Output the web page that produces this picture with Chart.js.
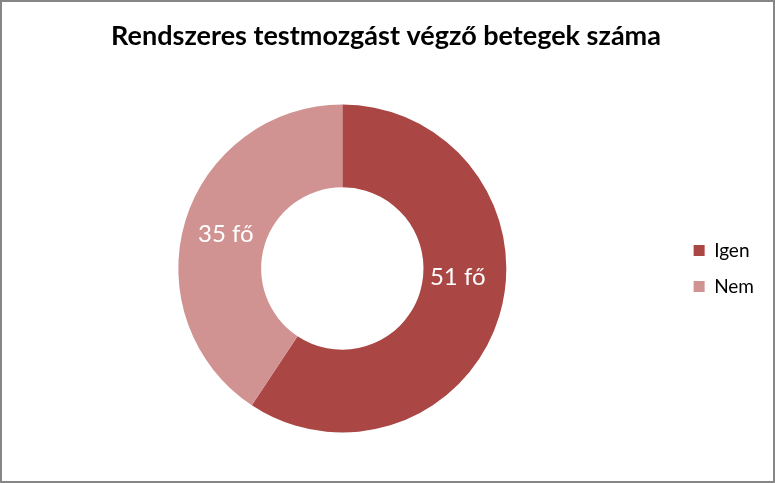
<!DOCTYPE html>
<html>
<head>
<meta charset="utf-8">
<script src="https://cdn.jsdelivr.net/npm/chart.js@4/dist/chart.umd.min.js"></script>
<style>
  html, body { margin: 0; padding: 0; background: #fff; }
  #wrap { width: 775px; height: 483px; box-sizing: border-box; border: 2px solid #868686; position: relative; }
  canvas { display: block; }
</style>
</head>
<body>
<div id="wrap"><canvas id="c" width="771" height="479"></canvas></div>
<script>
const chartTitle = 'Rendszeres testmozgást végző betegek száma';
const categories = ['Igen', 'Nem'];
const values = [51, 35];
const valueLabels = ['51 fő', '35 fő'];
const colors = ['#AA4643', '#D19392'];

const FONT = 'Lato, "Open Sans", sans-serif';

const labelPlugin = {
  id: 'sliceLabels',
  afterDatasetsDraw(chart, args, opts) {
    const ctx = chart.ctx;
    const meta = chart.getDatasetMeta(0);
    ctx.save();
    ctx.fillStyle = '#ffffff';
    ctx.font = '24px ' + FONT;
    ctx.textAlign = 'center';
    ctx.textBaseline = 'middle';
    meta.data.forEach((arc, i) => {
      const p = arc.tooltipPosition();
      const off = (opts.offsets && opts.offsets[i]) || [0, 0];
      ctx.fillText(valueLabels[i], p.x + off[0], p.y + off[1]);
    });
    ctx.restore();
  }
};

new Chart(document.getElementById('c'), {
  type: 'doughnut',
  data: {
    labels: categories,
    datasets: [{
      data: values,
      backgroundColor: colors,
      borderWidth: 0
    }]
  },
  options: {
    responsive: false,
    animation: false,
    cutout: '49.5%',
    layout: { padding: { left: 6, right: 9, top: 0, bottom: 48.5 } },
    plugins: {
      title: {
        display: true,
        text: chartTitle,
        color: '#000',
        font: { family: FONT, size: 27, weight: 'bold' },
        padding: { top: 18, bottom: 52.1 }
      },
      legend: {
        position: 'right',
        fullSize: false,
        labels: {
          boxWidth: 11,
          boxHeight: 11,
          padding: 17,
          color: '#000',
          font: { family: FONT, size: 19 }
        }
      },
      tooltip: { enabled: false },
      sliceLabels: { offsets: [[-2, -27], [1, 1]] }
    }
  },
  plugins: [labelPlugin]
});
</script>
</body>
</html>
